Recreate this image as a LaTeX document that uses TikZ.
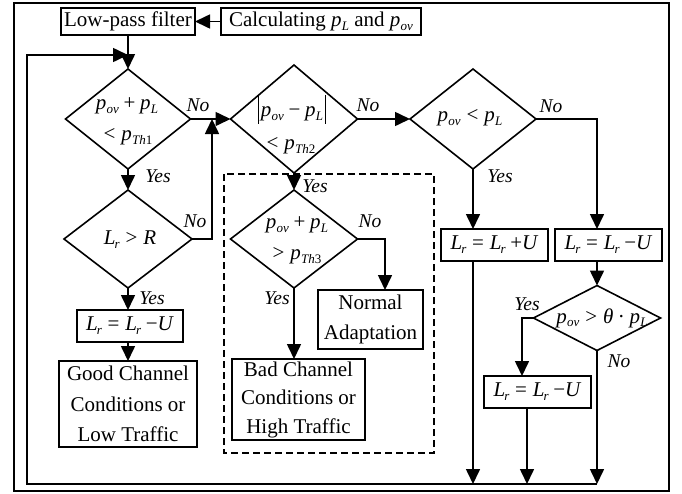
\documentclass[tikz,border=0pt]{standalone}
\usepackage{fontspec}
\setmainfont{Liberation Serif}
\usetikzlibrary{arrows.meta,shapes.geometric}
\newcommand\sbs[1]{\raisebox{-0.4ex}{\fontsize{13}{13}\selectfont\itshape #1}}
\newcommand\pv[1]{\textit{p}\kern0.3pt\sbs{#1}}
\newcommand\Lr{\textit{L}\kern-1pt\sbs{r}}
\newcommand\bop[1]{\hspace{0.22em}#1\hspace{0.22em}}
\newcommand\rel[1]{\hspace{0.28em}#1\hspace{0.28em}}
\newcommand\absbar{\rule[-7pt]{1.1pt}{29pt}}
\begin{document}
\begin{tikzpicture}[x=1pt,y=-1pt,
  line width=1.6pt,
  every node/.style={font=\fontsize{21}{31}\selectfont},
  arr/.style={-{Triangle[length=15pt,width=14pt]}},
  box/.style={draw, rectangle, inner sep=0pt, outer sep=0pt, align=center},
  dia/.style={draw, diamond, inner sep=0pt, outer sep=0pt},
  txt/.style={inner sep=0pt},
  lab/.style={font=\fontsize{19.5}{20}\selectfont\itshape, inner sep=0pt},
  frm/.style={line width=2.2pt},
  dsh/.style={line width=1.4pt, dash pattern=on 7pt off 4pt}]
\useasboundingbox (0,0) rectangle (682,493);
\draw[frm] (14,3) rectangle (669,491);
\draw[dsh] (224,174) rectangle (434,453);

% boxes
\node[box, minimum width=134pt, minimum height=27pt] (lpf) at (128,21.5) {Low-pass filter};
\node[box, minimum width=200pt, minimum height=27pt] (calc) at (321,21.5) {Calculating \pv{L}\ and \pv{ov}};
\node[box, minimum width=106pt, minimum height=32pt] (boxL) at (130,326) {\Lr\rel{=}\Lr\hspace{0.22em}\textminus\textit{U}};
\node[box, minimum width=138pt, minimum height=86pt, font=\fontsize{21}{30.5}\selectfont] (good) at (128,404) {Good Channel\\Conditions or\\Low Traffic};
\node[box, minimum width=105pt, minimum height=59pt, font=\fontsize{21}{30}\selectfont] (norm) at (370.5,319.5) {Normal\\Adaptation};
\node[box, minimum width=133pt, minimum height=81pt, font=\fontsize{21}{28.5}\selectfont] (bad) at (298.5,399.5) {Bad Channel\\Conditions or\\High Traffic};
\node[box, minimum width=107pt, minimum height=32pt] (boxP) at (494.5,245) {\Lr\rel{=}\Lr\hspace{0.22em}+\textit{U}};
\node[box, minimum width=107pt, minimum height=32pt] (boxMR) at (608.5,245) {\Lr\rel{=}\Lr\hspace{0.22em}\textminus\textit{U}};
\node[box, minimum width=107pt, minimum height=32pt] (boxML) at (537.5,392) {\Lr\rel{=}\Lr\hspace{0.22em}\textminus\textit{U}};

% diamonds
\node[dia, minimum width=125pt, minimum height=100pt] (d1) at (128,119) {};
\node[dia, minimum width=127pt, minimum height=108pt] (d2) at (294,119) {};
\node[dia, minimum width=126pt, minimum height=100pt] (d3) at (473,119) {};
\node[dia, minimum width=128pt, minimum height=98pt] (d5) at (128,239) {};
\node[dia, minimum width=127pt, minimum height=98pt] (d6) at (294,239) {};
\node[dia, minimum width=127pt, minimum height=65pt] (d4) at (597,318) {};

% diamond texts
\node[txt] (t1a) at (127,106) {\pv{ov}\bop{+}\pv{L}};
\node[txt] (t1b) at (128,137) {\textless\hspace{0.28em}\pv{Th{\upshape 1}}};
\node[txt] (t2a) at (292,109) {\absbar\hspace{0.1em}\pv{ov}\bop{\textminus}\pv{L}\hspace{0.1em}\absbar};
\node[txt] (t2b) at (291,146) {\textless\hspace{0.28em}\pv{Th{\upshape 2}}};
\node[txt] (t3) at (470,118) {\pv{ov}\rel{\textless}\pv{L}};
\node[txt] (t5) at (130,240) {\Lr\rel{\textgreater}\textit{R}};
\node[txt] (t6a) at (297,225) {\pv{ov}\bop{+}\pv{L}};
\node[txt] (t6b) at (297,256) {\textgreater\hspace{0.28em}\pv{Th{\upshape 3}}};
\node[txt] (t4) at (602,318) {\pv{ov}\rel{\textgreater}\textit{θ}\bop{·}\pv{L}};

% labels
\node[lab] (n1) at (198,105) {No};
\node[lab] (n2) at (368,105) {No};
\node[lab] (n3) at (551,106) {No};
\node[lab] (y1) at (158,176) {Yes};
\node[lab] (n5) at (195,221) {No};
\node[lab] (y5) at (152,298) {Yes};
\node[lab] (y2) at (315,186) {Yes};
\node[lab] (n6) at (370,221) {No};
\node[lab] (y6) at (277,298) {Yes};
\node[lab] (y3) at (500,176) {Yes};
\node[lab] (y4) at (527,304) {Yes};
\node[lab] (n4) at (619,361) {No};

% coordinates
\coordinate (fbr) at (597,484);
\coordinate (fbl) at (27,484);
\coordinate (fbt) at (27,55);
\coordinate (rj) at (212,119);
\coordinate (nj) at (385,239);
\coordinate (yj) at (522,318);

% connectors
\draw[arr] (calc.west) -- (lpf.east);
\draw[arr] (lpf.south) -- (d1.north);
\draw[arr] (fbr) -- (fbl) -- (fbt) -- (fbt -| d1.north);
\draw[arr] (d1.east) -- (d2.west);
\draw[arr] (d2.east) -- (d3.west);
\draw[arr] (d1.south) -- (d5.north);
\draw[arr] (d5.east) -| (rj);
\draw[arr] (d5.south) -- (d5.south |- boxL.north);
\draw[arr] (d5.south |- boxL.south) -- (d5.south |- good.north);
\draw[arr] (d2.south) -- (d6.north);
\draw[arr] (d6.east) -- (nj) -- (nj |- norm.north);
\draw[arr] (d6.south) -- (d6.south |- bad.north);
\draw[arr] (d3.south) -- (d3.south |- boxP.north);
\draw[arr] (d3.east) -| (d4.north |- boxMR.north);
\draw[arr] (d4.north |- boxMR.south) -- (d4.north);
\draw[arr] (d4.west) -- (yj) -- (yj |- boxML.north);
\draw[arr] (d4.south) -- (fbr);
\draw[arr] (d3.south |- boxP.south) -- (d3.south |- fbr);
\draw[arr] ([xshift=-10.5pt]boxML.south) -- ([xshift=-10.5pt]boxML.south |- fbr);
\end{tikzpicture}
\end{document}
